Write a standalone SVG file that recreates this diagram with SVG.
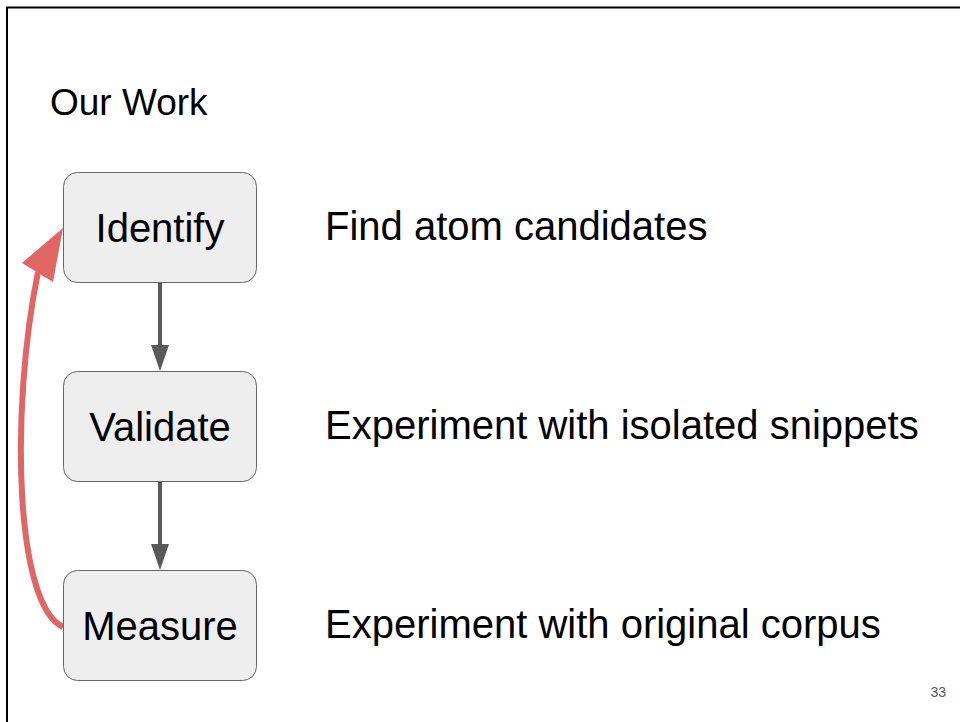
<svg xmlns="http://www.w3.org/2000/svg" width="960" height="722" viewBox="0 0 960 722">
  <style>
    .box { fill: #eeeeee; stroke: #666666; stroke-width: 1; }
    .label { font-family: "Liberation Sans", Arial, sans-serif; font-size: 40px; fill: #000000; }
    .center { text-anchor: middle; }
    .flow { stroke: #595959; stroke-width: 4; fill: none; }
    .flowhead { fill: #595959; }
    .loop { stroke: #e06666; stroke-width: 6; fill: none; }
    .loophead { fill: #e06666; }
  </style>
  <rect x="0" y="0" width="960" height="722" fill="#ffffff"/>
  <!-- slide frame -->
  <rect x="7" y="7.5" width="1000" height="800" fill="none" stroke="#000000" stroke-width="2"/>

  <text class="label" x="50" y="115" style="font-size:37px">Our Work</text>

  <g id="connectors">
    <line class="flow" x1="160" y1="283" x2="160" y2="348"/>
    <polygon class="flowhead" points="151,345 169,345 160,371"/>
    <line class="flow" x1="160" y1="482" x2="160" y2="547"/>
    <polygon class="flowhead" points="151,544 169,544 160,570"/>
    <path class="loop" d="M 63 627 C 15 605, 10 410, 38 272"/>
    <polygon class="loophead" points="63,228 22,263 53,282"/>
  </g>

  <g id="identify">
    <rect class="box" x="63.5" y="172.5" width="193" height="110" rx="14"/>
    <text class="label center" x="160" y="242">Identify</text>
  </g>
  <g id="validate">
    <rect class="box" x="63.5" y="371.5" width="193" height="110" rx="14"/>
    <text class="label center" x="160" y="441">Validate</text>
  </g>
  <g id="measure">
    <rect class="box" x="63.5" y="570.5" width="193" height="110" rx="14"/>
    <text class="label center" x="160" y="640">Measure</text>
  </g>

  <g id="descriptions">
    <text class="label" x="325" y="240">Find atom candidates</text>
    <text class="label" x="325" y="439">Experiment with isolated snippets</text>
    <text class="label" x="325" y="638">Experiment with original corpus</text>
  </g>

  <text x="946" y="697" text-anchor="end" font-family="Liberation Sans, Arial, sans-serif" font-size="14" fill="#595959">33</text>
</svg>
